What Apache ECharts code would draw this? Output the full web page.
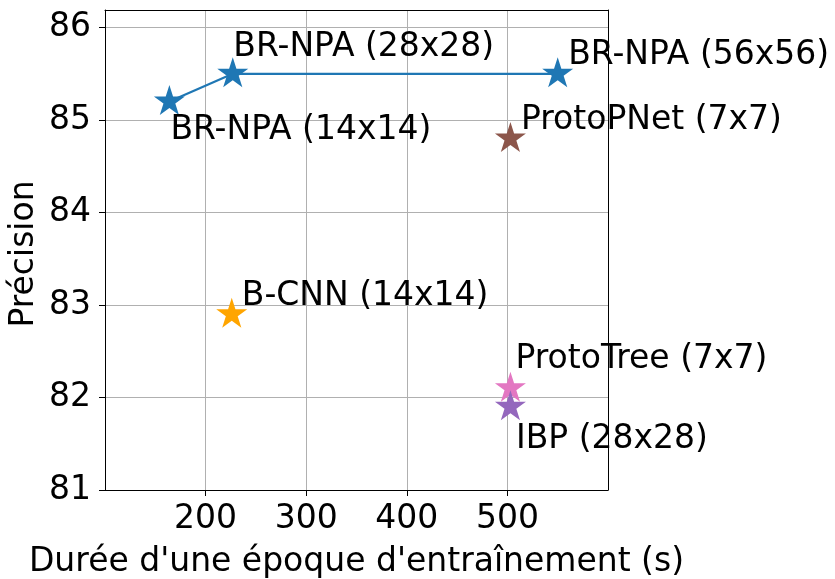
<!DOCTYPE html>
<html>
<head>
<meta charset="utf-8">
<script src="https://cdn.jsdelivr.net/npm/echarts@6/dist/echarts.min.js"></script>
<style>
  html, body { margin: 0; padding: 0; background: #fff; }
  #chart { width: 835px; height: 579px; }
</style>
</head>
<body>
<div id="chart"></div>
<script>
// Training time per epoch (s) vs accuracy for each method
const brnpaNames = ['BR-NPA (14x14)', 'BR-NPA (28x28)', 'BR-NPA (56x56)'];
const brnpaTime = [164, 227, 550];
const brnpaAcc = [85.2, 85.5, 85.5];

const otherNames = ['ProtoPNet (7x7)', 'B-CNN (14x14)', 'ProtoTree (7x7)', 'IBP (28x28)'];
const otherTime = [503, 226, 503, 503];
const otherAcc = [84.8, 82.9, 82.1, 81.9];

const xTicks = [200, 300, 400, 500];
const yTicks = [81, 82, 83, 84, 85, 86];

const xTitle = "Durée d'une époque d'entraînement (s)";
const yTitle = 'Précision';

// Styling
const FONT = 'DejaVu Sans';
const FS = 33;
const otherColors = ['#8c564b', '#ffa500', '#e377c2', '#9467bd'];
const brnpaOffsets = [[1, 30], [0.5, -25], [10.5, -17]];
const otherOffsets = [[10.5, -17], [10, -16], [5, -27], [5.5, 34]];

// Five-pointed star (outer radius 1, inner radius 0.382)
const STAR = 'path://M0,-1L0.2245,-0.309L0.9511,-0.309L0.3633,0.118L0.5878,0.809L0,0.382L-0.5878,0.809L-0.3633,0.118L-0.9511,-0.309L-0.2245,-0.309Z';
const STAR_SIZE = [31, 30];
const STAR_OFFSET = [0, -1.5];

function labelStyle(offset) {
  return {
    show: true,
    position: 'inside',
    align: 'left',
    verticalAlign: 'middle',
    offset: offset,
    color: '#000',
    fontFamily: FONT,
    fontSize: FS,
    formatter: p => p.name
  };
}

const series = [{
  type: 'line',
  name: 'BR-NPA',
  symbol: STAR,
  symbolSize: STAR_SIZE,
  symbolOffset: STAR_OFFSET,
  symbolKeepAspect: false,
  color: '#1f77b4',
  lineStyle: { width: 2.2, color: '#1f77b4' },
  itemStyle: { color: '#1f77b4', opacity: 1 },
  clip: false,
  z: 3,
  data: brnpaTime.map((t, i) => ({
    name: brnpaNames[i],
    value: [t, brnpaAcc[i]],
    label: labelStyle(brnpaOffsets[i])
  }))
}];

otherNames.forEach((n, i) => {
  series.push({
    type: 'scatter',
    name: n,
    symbol: STAR,
    symbolSize: STAR_SIZE,
    symbolOffset: STAR_OFFSET,
    itemStyle: { color: otherColors[i], opacity: 1 },
    clip: false,
    z: 3 + i,
    data: [{ name: n, value: [otherTime[i], otherAcc[i]], label: labelStyle(otherOffsets[i]) }]
  });
});

const frameLine = { show: true, onZero: false, lineStyle: { color: '#000', width: 1 } };
const gridLine = { show: true, lineStyle: { color: '#b0b0b0', width: 1 } };
const tickStyle = { color: '#000', width: 1 };

const chart = echarts.init(document.getElementById('chart'), null, { renderer: 'canvas' });
chart.setOption({
  animation: false,
  backgroundColor: '#fff',
  textStyle: { fontFamily: FONT },
  grid: {
    left: 105, right: 227, top: 10, bottom: 89,
    containLabel: false,
    outerBoundsMode: 'none',
    show: false
  },
  // vertical axis title
  graphic: [{
    type: 'text',
    x: 24,
    y: 254,
    rotation: Math.PI / 2,
    style: {
      text: yTitle,
      fill: '#000',
      font: FS + 'px "' + FONT + '"',
      align: 'center',
      verticalAlign: 'middle'
    }
  }],
  xAxis: [{
    type: 'value',
    position: 'bottom',
    min: 100, max: 600, interval: 100,
    name: xTitle,
    nameLocation: 'middle',
    nameGap: 56,
    nameTextStyle: { color: '#000', fontFamily: FONT, fontSize: FS },
    axisLine: frameLine,
    axisTick: { show: true, length: 6, lineStyle: tickStyle, customValues: xTicks },
    axisLabel: { color: '#000', fontFamily: FONT, fontSize: FS, margin: 13, customValues: xTicks },
    splitLine: gridLine
  }, {
    // top edge of the frame
    type: 'value',
    position: 'top',
    min: 100, max: 600,
    axisLine: frameLine,
    axisTick: { show: false },
    axisLabel: { show: false },
    splitLine: { show: false }
  }],
  yAxis: [{
    type: 'value',
    position: 'left',
    min: 81, max: 86.19, interval: 1,
    axisLine: frameLine,
    axisTick: { show: true, length: 6, lineStyle: tickStyle, customValues: yTicks },
    axisLabel: { color: '#000', fontFamily: FONT, fontSize: FS, margin: 14, customValues: yTicks },
    splitLine: gridLine
  }, {
    // right edge of the frame
    type: 'value',
    position: 'right',
    min: 81, max: 86.19,
    axisLine: frameLine,
    axisTick: { show: false },
    axisLabel: { show: false },
    splitLine: { show: false }
  }],
  series: series
});
</script>
</body>
</html>
